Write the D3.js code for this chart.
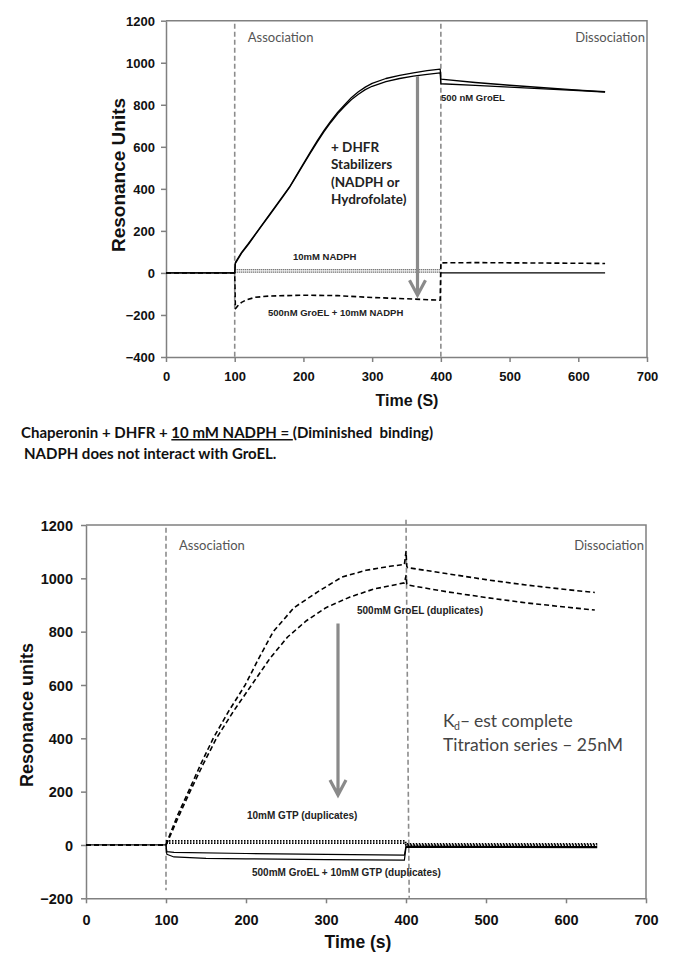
<!DOCTYPE html>
<html>
<head>
<meta charset="utf-8">
<script src="https://cdn.jsdelivr.net/npm/d3@7"></script>
<style>
  body { margin: 0; background: #fff; }
</style>
</head>
<body>
<script>
// ---------- data (time s, resonance units) ----------
const timeTicks = [0, 100, 200, 300, 400, 500, 600, 700];
const topYTicks = [-400, -200, 0, 200, 400, 600, 800, 1000, 1200];
const botYTicks = [-200, 0, 200, 400, 600, 800, 1000, 1200];

// top panel: 500 nM GroEL duplicates (solid)
const groelA = [[0,0],[100,0],[101,50],[110,98],[120,140],[130,185],[140,230],[150,275],[160,320],[170,365],[180,410],[190,465],[200,520],[210,575],[220,628],[230,678],[240,723],[250,765],[260,800],[270,835],[280,862],[290,884],[300,902],[320,925],[340,940],[360,952],[380,962],[399,970],[400,922],[450,906],[500,893],[550,881],[600,870],[639,862]];
const groelB = [[0,0],[100,0],[101,45],[110,94],[120,136],[130,182],[140,227],[150,272],[160,317],[170,362],[180,408],[190,462],[200,516],[210,570],[220,622],[230,672],[240,717],[250,758],[260,793],[270,825],[280,850],[290,872],[300,888],[320,910],[340,925],[360,936],[380,945],[399,952],[400,900],[450,892],[500,884],[550,876],[600,868],[639,860]];
// top panel: 10mM NADPH (dotted)
const nadphA = [[100,15],[399,15]];
const nadphB = [[100,4],[399,4]];
const nadphAfter = [[400,0],[639,0]];
// top panel: 500nM GroEL + 10mM NADPH (dashed)
const groelNadph = [[0,0],[100,0],[101,-170],[104,-158],[110,-140],[117,-128],[130,-116],[150,-110],[200,-106],[250,-108],[300,-117],[350,-123],[399,-130],[400,48],[450,49],[500,48],[550,47],[600,46],[639,45]];
const topArrow = { t: 366, from: 936, to: -106 };

// bottom panel: 500mM GroEL duplicates (dashed)
const gGroelA = [[0,0],[100,0],[105,40],[115,115],[128,200],[143,300],[159,400],[178,500],[199,600],[216,700],[234,800],[260,890],[290,950],[320,1005],[350,1030],[380,1045],[398,1052],[400,1100],[401,1045],[402,1040],[450,1018],[500,995],[550,975],[600,958],[636,947]];
const gGroelB = [[0,0],[100,0],[106,40],[117,115],[130,200],[146,300],[163,400],[184,500],[207,600],[230,700],[252,780],[275,840],[300,890],[330,930],[360,960],[398,983],[400,1010],[401,978],[402,975],[450,950],[500,928],[550,908],[600,892],[636,881]];
// bottom panel: 10mM GTP duplicates (dotted)
const gtpA = [[100,15],[399,15],[400,4],[639,4]];
const gtpB = [[100,7],[399,7],[400,-1],[639,-1]];
// bottom panel: 500mM GroEL + 10mM GTP duplicates (solid)
const gtpGroelA = [[0,0],[100,0],[101,-25],[110,-28],[200,-32],[300,-35],[398,-38],[400,-4],[500,-5],[639,-6]];
const gtpGroelB = [[100,0],[101,-35],[110,-45],[150,-50],[200,-52],[300,-55],[398,-57],[400,-8],[500,-9],[639,-10]];
const botArrow = { t: 315, from: 831, to: 187 };

// ---------- drawing ----------
const W = 681, H = 973;
const svg = d3.select("body").append("svg").attr("width", W).attr("height", H);

const tickFont = "'Liberation Sans', Arial, sans-serif";
const noteFont = "Lato, 'Open Sans', sans-serif";
const axisGray = "#808080";

function panel(opt) {
    const x = d3.scaleLinear().domain([0, 700]).range([opt.left, opt.right]);
    const y = d3.scaleLinear().domain(opt.yDomain).range([opt.bottom, opt.top]);
    const g = svg.append("g");

    // frame top + right
    g.append("path")
        .attr("d", `M${opt.left},${opt.top}H${opt.right}V${opt.bottom}`)
        .attr("fill", "none").attr("stroke", axisGray).attr("stroke-width", 1.5);

    const xa = g.append("g").attr("transform", `translate(0,${opt.bottom})`)
        .call(d3.axisBottom(x).tickValues(timeTicks).tickFormat(d3.format("d"))
            .tickSize(5).tickSizeOuter(0).tickPadding(opt.xPad));
    const ya = g.append("g").attr("transform", `translate(${opt.left},0)`)
        .call(d3.axisLeft(y).tickValues(opt.yTicks).tickFormat(d3.format("d"))
            .tickSize(5).tickSizeOuter(0).tickPadding(opt.yPad));
    [xa, ya].forEach(a => {
        a.select(".domain").attr("stroke", axisGray).attr("stroke-width", 1.5);
        a.selectAll(".tick line").attr("stroke", axisGray).attr("stroke-width", 1.5);
        a.selectAll("text").attr("font-family", tickFont).attr("font-weight", "bold")
            .attr("font-size", opt.tickSize).attr("fill", "#111");
    });
    ya.selectAll("text").attr("dy", "0.35em");

    g.append("text")
        .attr("x", opt.xTitleX).attr("y", opt.xTitleY)
        .attr("text-anchor", "middle").attr("dominant-baseline", "central")
        .attr("font-family", tickFont).attr("font-weight", "bold").attr("font-size", opt.titleSize)
        .attr("fill", "#111").text(opt.xTitle);
    g.append("text")
        .attr("transform", `translate(${opt.yTitleX},${opt.yTitleY}) rotate(-90)`)
        .attr("text-anchor", "middle").attr("dominant-baseline", "central")
        .attr("font-family", tickFont).attr("font-weight", "bold").attr("font-size", opt.yTitleSize)
        .attr("fill", "#111").text(opt.yTitle);

    // phase markers
    opt.phases.forEach(p => {
        g.append("line")
            .attr("x1", x(p.t0)).attr("x2", x(p.t1))
            .attr("y1", y(p.v0)).attr("y2", y(p.v1))
            .attr("stroke", "#8c8c8c").attr("stroke-width", 1.6).attr("stroke-dasharray", "5,3");
    });
    g.append("text").attr("x", x(100) + 13).attr("y", opt.phaseY)
        .attr("dominant-baseline", "central").attr("font-family", noteFont).attr("font-size", 13)
        .attr("fill", "#555").text("Association");
    g.append("text").attr("x", opt.right - 2).attr("y", opt.phaseY).attr("text-anchor", "end")
        .attr("dominant-baseline", "central").attr("font-family", noteFont).attr("font-size", 13)
        .attr("fill", "#555").text("Dissociation");

    const line = d3.line().x(d => x(d[0])).y(d => y(d[1]));
    opt.series.forEach(s => {
        g.append("path").datum(s.data).attr("d", line)
            .attr("fill", "none").attr("stroke", "#000")
            .attr("stroke-width", s.w).attr("stroke-dasharray", s.dash || null)
            .attr("stroke-linejoin", "round");
    });

    // grey arrow
    const a = opt.arrow;
    const ax = x(a.t), ay0 = y(a.from), ay1 = y(a.to);
    g.append("path")
        .attr("d", `M${ax},${ay0}V${ay1} M${ax - 8},${ay1 - 15}L${ax},${ay1}L${ax + 8},${ay1 - 15}`)
        .attr("fill", "none").attr("stroke", "#8a8a8a").attr("stroke-width", 3.2)
        .attr("stroke-linejoin", "miter");

    opt.labels.forEach(l => {
        g.append("text").attr("x", l.x).attr("y", l.y).attr("dominant-baseline", "central")
            .attr("font-family", tickFont).attr("font-weight", "bold").attr("font-size", l.size)
            .attr("fill", "#222").text(l.text);
    });
    return { x, y, g };
}

// ---- top panel ----
const topPanel = panel({
    left: 166, right: 647, top: 20.7, bottom: 357,
    yDomain: [-400, 1200], yTicks: topYTicks,
    tickSize: 13, xPad: 10, yPad: 6,
    xTitle: "Time (S)", xTitleX: 407, xTitleY: 400, titleSize: 16,
    yTitle: "Resonance Units", yTitleX: 118, yTitleY: 175, yTitleSize: 19,
    phases: [{ t0: 100, t1: 100, v0: 1185, v1: -400 }, { t0: 400, t1: 400, v0: 1185, v1: -400 }],
    phaseY: 36.7,
    series: [
        { data: nadphA, w: 1, dash: "1,1" },
        { data: nadphB, w: 1, dash: "1,1" },
        { data: nadphAfter, w: 1.2 },
        { data: groelNadph, w: 1.6, dash: "5,3" },
        { data: groelA, w: 1.3 },
        { data: groelB, w: 1.3 }
    ],
    arrow: topArrow,
    labels: [
        { x: 441, y: 97.3, size: 9.5, text: "500 nM GroEL" },
        { x: 293, y: 256.7, size: 9.5, text: "10mM NADPH" },
        { x: 268, y: 312.3, size: 9.5, text: "500nM GroEL + 10mM NADPH" }
    ]
});

const note = topPanel.g.append("text").attr("font-family", noteFont).attr("font-size", 13.5)
    .attr("fill", "#222").attr("font-weight", "bold");
["+ DHFR", "Stabilizers", "(NADPH or", "Hydrofolate)"].forEach((t, i) => {
    note.append("tspan").attr("x", 331).attr("y", 151.5 + i * 17.5).text(t);
});

// caption
const cap = svg.append("text").attr("x", 21).attr("y", 438)
    .attr("font-family", noteFont).attr("font-size", 15).attr("font-weight", "bold").attr("fill", "#111");
cap.append("tspan").text("Chaperonin + DHFR + ");
cap.append("tspan").attr("text-decoration", "underline").text("10 mM NADPH = ");
cap.append("tspan").text("(Diminished\u00a0\u00a0binding)");
svg.append("text").attr("x", 24).attr("y", 458.5)
    .attr("font-family", noteFont).attr("font-size", 15).attr("font-weight", "bold").attr("fill", "#111")
    .text("NADPH does not interact with GroEL.");

// ---- bottom panel ----
const botPanel = panel({
    left: 86, right: 646, top: 525, bottom: 898.3,
    yDomain: [-200, 1200], yTicks: botYTicks,
    tickSize: 14.5, xPad: 11, yPad: 8,
    xTitle: "Time (s)", xTitleX: 358, xTitleY: 942, titleSize: 17.5,
    yTitle: "Resonance units", yTitleX: 27, yTitleY: 715, yTitleSize: 18,
    phases: [{ t0: 100, t1: 100, v0: 1190, v1: -170 }, { t0: 400, t1: 404, v0: 1220, v1: -198 }],
    phaseY: 545,
    series: [
        { data: gtpA, w: 1.8, dash: "1.5,1.5" },
        { data: gtpB, w: 1.8, dash: "1.5,1.5" },
        { data: gtpGroelA, w: 1.2 },
        { data: gtpGroelB, w: 1.2 },
        { data: gGroelA, w: 1.6, dash: "5,3" },
        { data: gGroelB, w: 1.6, dash: "5,3" }
    ],
    arrow: botArrow,
    labels: [
        { x: 357, y: 610, size: 10, text: "500mM GroEL (duplicates)" },
        { x: 247, y: 815, size: 10, text: "10mM GTP (duplicates)" },
        { x: 252, y: 872.7, size: 10, text: "500mM GroEL + 10mM GTP (duplicates)" }
    ]
});

const kdFont = 17.5;
const kdText = (x, y, size, t) => botPanel.g.append("text").attr("x", x).attr("y", y)
    .attr("font-family", noteFont).attr("font-size", size).attr("fill", "#444").text(t);
kdText(443, 727, kdFont, "K");
kdText(454, 730, 10.5, "d");
kdText(460, 727, kdFont, "–");
kdText(474, 727, kdFont, "est complete");
kdText(443, 751, kdFont, "Titration series – 25nM");
</script>
</body>
</html>
